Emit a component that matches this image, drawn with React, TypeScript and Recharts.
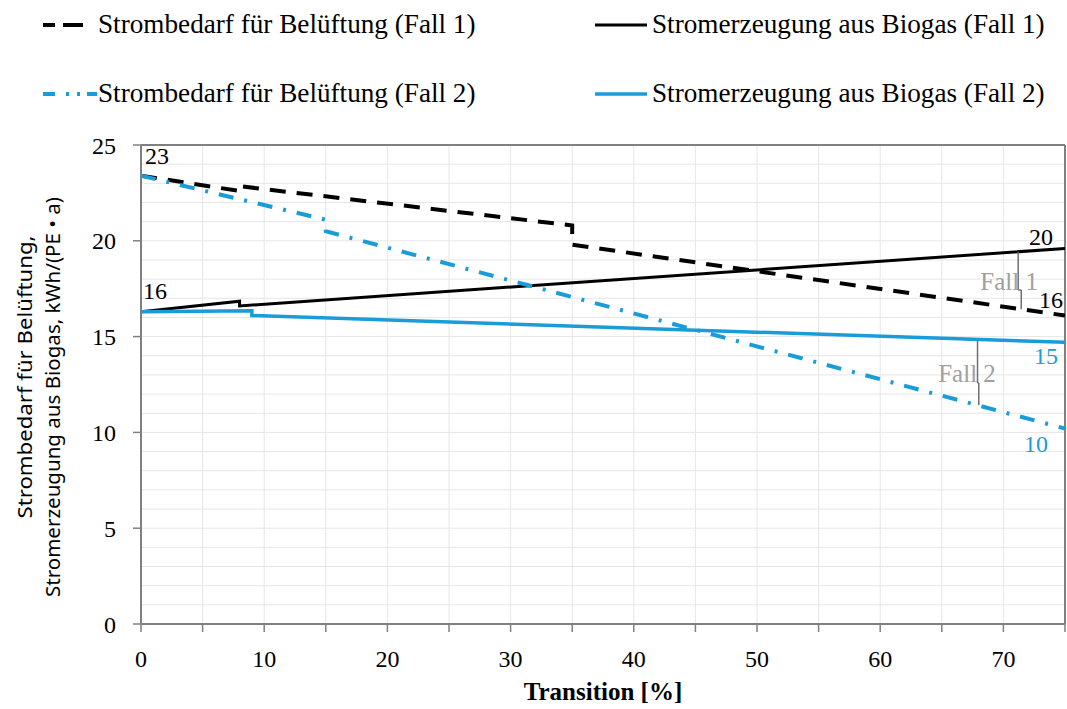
import React from 'react';
import {
  LineChart,
  Line,
  XAxis,
  YAxis,
  CartesianGrid,
  Legend,
  ReferenceLine,
  ReferenceDot,
} from 'recharts';

// ---------- data ----------
const seriesNames = [
  'Strombedarf für Belüftung (Fall 1)',
  'Stromerzeugung aus Biogas (Fall 1)',
  'Strombedarf für Belüftung (Fall 2)',
  'Stromerzeugung aus Biogas (Fall 2)',
];

const f1BedarfX = [0, 8, 8, 35, 35, 75];
const f1BedarfY = [23.4, 22.6, 22.85, 20.8, 19.8, 16.1];

const f1ErzeugungX = [0, 8, 8, 75];
const f1ErzeugungY = [16.3, 16.85, 16.6, 19.6];

const f2BedarfX = [0, 15, 15, 75];
const f2BedarfY = [23.4, 21.1, 20.5, 10.2];

const f2ErzeugungX = [0, 9, 9, 75];
const f2ErzeugungY = [16.3, 16.35, 16.1, 14.7];

const xTicks = [0, 5, 10, 15, 20, 25, 30, 35, 40, 45, 50, 55, 60, 65, 70, 75];
const yTicks = [0, 5, 10, 15, 20, 25];
const gridY = Array.from({ length: 26 }, (_, i) => i);

const yTitleLines = ['Strombedarf für Belüftung,', 'Stromerzeugung aus Biogas, kWh/(PE • a)'];
const xTitle = 'Transition [%]';

const bracket1X = [71.2, 71.2, 71.45, 71.45];
const bracket1Y = [19.43, 17.43, 17.43, 16.43];
const bracket2X = [67.9, 67.9, 68.0, 68.0];
const bracket2Y = [14.8, 12.58, 12.58, 11.42];

const endLabels = ['23', '16', '20', '16', '15', '10'];
const caseLabels = ['Fall 1', 'Fall 2'];

const zip = (xs: number[], ys: number[]) => xs.map((x, i) => ({ x, y: ys[i] }));

const f1Bedarf = zip(f1BedarfX, f1BedarfY);
const f1Erzeugung = zip(f1ErzeugungX, f1ErzeugungY);
const f2Bedarf = zip(f2BedarfX, f2BedarfY);
const f2Erzeugung = zip(f2ErzeugungX, f2ErzeugungY);
const bracket1 = zip(bracket1X, bracket1Y);
const bracket2 = zip(bracket2X, bracket2Y);

// ---------- styles ----------
const SERIF = '"Liberation Serif", "Times New Roman", serif';
const SANS = '"Noto Sans", "Open Sans", sans-serif';
const BLUE = '#1a9cd8';
const BLACK = '#000000';
const AXIS = '#808080';
const GRID = '#e6e6e6';
const ANNOT = '#a0a0a0';

const seriesStyles = [
  { color: BLACK, width: 4, dash: '16 11', legendDash: '12 8 20', legendX2: 83 },
  { color: BLACK, width: 3, dash: undefined, legendDash: undefined, legendX2: 647 },
  { color: BLUE, width: 4, dash: '15 11 3 11', legendDash: '12 11 3 8 3 7 12', legendX2: 97 },
  { color: BLUE, width: 3.5, dash: undefined, legendDash: undefined, legendX2: 647 },
];

const renderLegend = () => (
  <svg width={1067} height={120} style={{ display: 'block' }}>
    {seriesNames.map((name, i) => {
      const col = i % 2;
      const row = Math.floor(i / 2);
      const baseline = row === 0 ? 33 : 102;
      const x1 = col === 0 ? 43 : 595;
      const textX = col === 0 ? 98 : 652;
      const st = seriesStyles[i];
      return (
        <g key={name}>
          <line
            x1={x1}
            x2={st.legendX2}
            y1={baseline - 8}
            y2={baseline - 8}
            stroke={st.color}
            strokeWidth={st.width}
            strokeDasharray={st.legendDash}
          />
          <text x={textX} y={baseline} fontFamily={SERIF} fontSize={27.2} fill="#000">
            {name}
          </text>
        </g>
      );
    })}
  </svg>
);

const textLabel =
  (value: string, dx: number, dy: number, color: string, anchor: string, size = 24) =>
  (props: any) => {
    const vb = props.viewBox || {};
    return (
      <text
        x={(vb.x || 0) + dx}
        y={(vb.y || 0) + dy}
        fill={color}
        fontFamily={SERIF}
        fontSize={size}
        textAnchor={anchor}
      >
        {value}
      </text>
    );
  };

const XTick = (props: any) => {
  const { x, y, payload } = props;
  const v = payload?.value;
  if (v % 10 !== 0) return <g />;
  return (
    <text x={x} y={y + 35} textAnchor="middle" fontFamily={SERIF} fontSize={24} fill="#000">
      {String(v)}
    </text>
  );
};

const YTick = (props: any) => {
  const { x, y, payload } = props;
  return (
    <text x={x} y={y + 8.5} textAnchor="end" fontFamily={SERIF} fontSize={24} fill="#000">
      {String(payload?.value)}
    </text>
  );
};

const yAxisLabel = (props: any) => {
  const vb = props.viewBox || { x: 0, y: 145, width: 141, height: 479 };
  const cy = vb.y + vb.height / 2;
  const lines = [
    { b: vb.x + 32, c: cy - 7.5, len: 283 },
    { b: vb.x + 60, c: cy + 12.5, len: 400 },
  ];
  return (
    <g>
      {yTitleLines.map((t, i) => (
        <text
          key={t}
          x={lines[i].b}
          y={lines[i].c}
          transform={`rotate(-90 ${lines[i].b} ${lines[i].c})`}
          textAnchor="middle"
          fontFamily={SANS}
          fontSize={20.5}
          textLength={lines[i].len}
          lengthAdjust="spacingAndGlyphs"
          fill="#000"
        >
          {t}
        </text>
      ))}
    </g>
  );
};

const xAxisLabel = (props: any) => {
  const vb = props.viewBox || { x: 141, y: 624, width: 924, height: 85 };
  return (
    <text
      x={vb.x + vb.width / 2}
      y={vb.y + 76}
      textAnchor="middle"
      fontFamily={SERIF}
      fontWeight="bold"
      fontSize={25}
      fill="#000"
    >
      {xTitle}
    </text>
  );
};

const hGrid = (args: any) => {
  const sc = args?.yAxis?.scale;
  if (typeof sc === 'function') return gridY.map((v) => sc(v));
  if (sc && typeof sc.map === 'function') return gridY.map((v) => sc.map(v));
  const o = args.offset;
  return gridY.map((v) => o.top + o.height * (1 - v / 25));
};

export default function App() {
  const seriesData = [f1Bedarf, f1Erzeugung, f2Bedarf, f2Erzeugung];
  return (
    <div style={{ position: 'absolute', left: 0, top: 0, background: '#fff', fontFamily: SERIF }}>
      <LineChart
        width={1067}
        height={709}
        margin={{ top: 25, right: 2, bottom: 0, left: 0 }}
        style={{ fontFamily: SERIF }}
      >
        <CartesianGrid stroke={GRID} strokeWidth={1} horizontalCoordinatesGenerator={hGrid} />
        <Legend
          verticalAlign="top"
          align="left"
          height={120}
          wrapperStyle={{ top: 0, left: 0, width: 1067, height: 120 }}
          content={renderLegend}
        />
        <XAxis
          type="number"
          dataKey="x"
          domain={[0, 75]}
          ticks={xTicks}
          interval={0}
          allowDataOverflow
          tickSize={8}
          tickMargin={0}
          height={85}
          axisLine={{ stroke: AXIS, strokeWidth: 2 }}
          tickLine={{ stroke: AXIS, strokeWidth: 1.5 }}
          tick={<XTick />}
          label={{ content: xAxisLabel }}
        />
        <YAxis
          type="number"
          domain={[0, 25]}
          ticks={yTicks}
          interval={0}
          allowDataOverflow
          width={141}
          tickSize={8}
          tickMargin={17}
          axisLine={{ stroke: AXIS, strokeWidth: 2 }}
          tickLine={{ stroke: AXIS, strokeWidth: 1.5 }}
          tick={<YTick />}
          label={{ content: yAxisLabel }}
        />
        <ReferenceLine y={25} stroke={AXIS} strokeWidth={2} />
        <ReferenceLine x={75} stroke={AXIS} strokeWidth={2} />

        {seriesData.map((d, i) => (
          <Line
            key={seriesNames[i]}
            name={seriesNames[i]}
            data={d}
            dataKey="y"
            type="linear"
            stroke={seriesStyles[i].color}
            strokeWidth={seriesStyles[i].width}
            strokeDasharray={seriesStyles[i].dash}
            dot={false}
            activeDot={false}
            isAnimationActive={false}
          />
        ))}

        {[bracket1, bracket2].map((b, k) =>
          b.slice(0, -1).map((p, j) => (
            <ReferenceLine
              key={`br${k}-${j}`}
              segment={[p, b[j + 1]]}
              stroke="#6e6e6e"
              strokeWidth={1.5}
            />
          ))
        )}

        <ReferenceDot x={f1BedarfX[0]} y={f1BedarfY[0]} r={0} label={{ content: textLabel(endLabels[0], 4, -11.6, BLACK, 'start') }} />
        <ReferenceDot x={f1ErzeugungX[0]} y={f1ErzeugungY[0]} r={0} label={{ content: textLabel(endLabels[1], 2, -12.7, BLACK, 'start') }} />
        <ReferenceDot x={75} y={f1ErzeugungY[3]} r={0} label={{ content: textLabel(endLabels[2], -12, -3.5, BLACK, 'end') }} />
        <ReferenceDot x={75} y={f1BedarfY[5]} r={0} label={{ content: textLabel(endLabels[3], -2, -7.5, BLACK, 'end') }} />
        <ReferenceDot x={75} y={f2ErzeugungY[3]} r={0} label={{ content: textLabel(endLabels[4], -7, 21.7, BLUE, 'end') }} />
        <ReferenceDot x={75} y={f2BedarfY[3]} r={0} label={{ content: textLabel(endLabels[5], -17, 23.4, BLUE, 'end') }} />
        <ReferenceDot x={bracket1X[1]} y={bracket1Y[1]} r={0} label={{ content: textLabel(caseLabels[0], -9, 0, ANNOT, 'middle', 25) }} />
        <ReferenceDot x={bracket2X[1]} y={bracket2Y[1]} r={0} label={{ content: textLabel(caseLabels[1], -10.5, -1, ANNOT, 'middle', 25) }} />
      </LineChart>
    </div>
  );
}
